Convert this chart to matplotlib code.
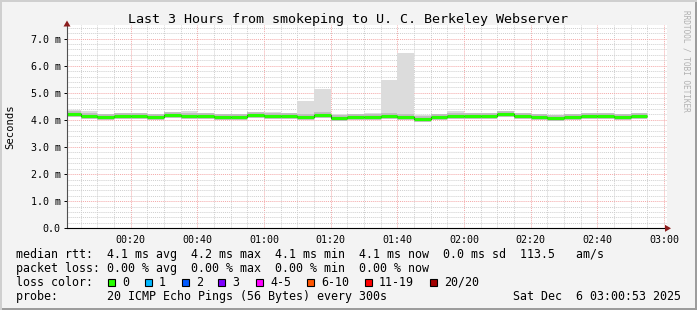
import matplotlib.pyplot as plt
from matplotlib.patches import Rectangle, Polygon
import numpy as np

W, H = 697, 310

# clock minutes since 00:00, graph runs 00:00:53 -> 03:00:53
t_start = 53 / 60.0
t_end = 180 + 53 / 60.0
bar_edges = list(range(0, 175, 5))  # 5-minute steps, 00:00 .. 02:50

# median rtt (ms) per 5 min step
median = [4.21, 4.16, 4.09, 4.15, 4.16, 4.10, 4.17, 4.16, 4.16, 4.12, 4.09, 4.18,
          4.16, 4.13, 4.10, 4.17, 4.06, 4.09, 4.12, 4.14, 4.10, 4.04, 4.09, 4.16,
          4.16, 4.16, 4.21, 4.16, 4.12, 4.06, 4.12, 4.16, 4.16, 4.10, 4.15]
# smoke range (ms)
smoke_hi = [4.37, 4.31, 4.20, 4.25, 4.25, 4.17, 4.25, 4.33, 4.25, 4.22, 4.20, 4.27,
            4.30, 4.25, 4.68, 5.14, 4.22, 4.20, 4.25, 5.48, 6.48, 4.18, 4.22, 4.33,
            4.27, 4.27, 4.30, 4.25, 4.20, 4.15, 4.22, 4.20, 4.18, 4.12, 4.20]
smoke_lo = [4.15, 4.10, 4.04, 4.10, 4.11, 4.06, 4.12, 4.10, 4.11, 4.00, 4.04, 4.13,
            4.11, 4.08, 4.05, 4.12, 4.00, 4.04, 4.07, 4.09, 4.05, 4.00, 4.04, 4.11,
            4.11, 4.11, 4.16, 4.11, 4.07, 4.00, 4.07, 4.11, 4.11, 4.06, 4.10]

y_ticks = [0, 1, 2, 3, 4, 5, 6, 7]
y_labels = ['0.0', '1.0 m', '2.0 m', '3.0 m', '4.0 m', '5.0 m', '6.0 m', '7.0 m']
x_ticks = [20, 40, 60, 80, 100, 120, 140, 160, 180]
x_labels = ['00:20', '00:40', '01:00', '01:20', '01:40', '02:00', '02:20', '02:40', '03:00']

loss_labels = ['0', '1', '2', '3', '4-5', '6-10', '11-19', '20/20']
loss_colors = ['#26ff00', '#00b8ff', '#0059ff', '#7e00ff', '#ff00ff', '#ff5500', '#ff0000', '#a10000']

legend_rtt = 'median rtt:  4.1 ms avg  4.2 ms max  4.1 ms min  4.1 ms now  0.0 ms sd  113.5   am/s'
legend_loss = 'packet loss: 0.00 % avg  0.00 % max  0.00 % min  0.00 % now'
legend_probe = 'probe:       20 ICMP Echo Pings (56 Bytes) every 300s'
date_str = 'Sat Dec  6 03:00:53 2025'

MONO = 'DejaVu Sans Mono'


def fx(x):
    return x / W


def fy(y):
    return 1 - y / H


fig = plt.figure(figsize=(W / 100, H / 100), dpi=100)
fig.patch.set_facecolor('#f3f3f3')

# 3d frame around the image
fig.patches.append(Rectangle((0, 0), 1, 2 / H, transform=fig.transFigure,
                             facecolor='#9c9c9c', edgecolor='none'))
fig.patches.append(Rectangle((fx(W - 2), 0), fx(2), 1, transform=fig.transFigure,
                             facecolor='#9c9c9c', edgecolor='none'))
fig.patches.append(Rectangle((0, 0), fx(2), 1, transform=fig.transFigure,
                             facecolor='#cfcfcf', edgecolor='none'))
fig.patches.append(Rectangle((0, fy(2)), 1, 2 / H, transform=fig.transFigure,
                             facecolor='#cfcfcf', edgecolor='none'))

ax = fig.add_axes([fx(67), fy(228.3), fx(600), (228.3 - 25) / H])
ax.set_facecolor('white')
ax.set_xlim(t_start, t_end)
ax.set_ylim(0, 7.5)

# grid
for t in range(5, 181, 5):
    major = t % 20 == 0
    ax.axvline(t, color='#f4a8a8' if major else '#cfcfcf', lw=0.7,
               ls=(0, (1, 1)), zorder=1)
for v in np.arange(0.2, 7.5, 0.2):
    major = abs(v - round(v)) < 1e-6
    ax.axhline(v, color='#f4a8a8' if major else '#cfcfcf', lw=0.7,
               ls=(0, (1, 1)), zorder=1)

edges = bar_edges + [bar_edges[-1] + 5]
ax.stairs(smoke_hi, edges, baseline=smoke_lo, fill=True, color='#dcdcdc', zorder=2)
# darker core of the smoke
ax.hlines(median, edges[:-1], edges[1:], color='#bdbdbd', lw=4.2, zorder=3)
ax.stairs(median, edges, baseline=None, color='#202020', lw=0.8, zorder=4)
ax.hlines(median, edges[:-1], edges[1:], color=loss_colors[0], lw=2.2, zorder=5)

for s in ['top', 'right']:
    ax.spines[s].set_visible(False)
ax.spines['left'].set_color('#505050')
ax.spines['bottom'].set_color('black')
ax.spines['left'].set_zorder(6)
ax.spines['bottom'].set_zorder(6)

ax.set_yticks(y_ticks)
ax.set_yticklabels(y_labels, fontfamily=MONO, fontsize=7.2)
ax.set_xticks(x_ticks)
ax.set_xticklabels(x_labels, fontfamily=MONO, fontsize=7.2)
ax.tick_params(axis='y', length=2.5, pad=2, colors='black', width=0.7)
ax.tick_params(axis='x', length=0, pad=5)

# axis arrows
fig.patches.append(Polygon([[fx(63.5), fy(26.5)], [fx(70.5), fy(26.5)], [fx(67), fy(20.5)]],
                           closed=True, transform=fig.transFigure,
                           facecolor='#8b1c1c', edgecolor='none', zorder=10))
fig.patches.append(Polygon([[fx(665), fy(224.8)], [fx(665), fy(231.8)], [fx(671), fy(228.3)]],
                           closed=True, transform=fig.transFigure,
                           facecolor='#8b1c1c', edgecolor='none', zorder=10))

fig.text(fx(348), fy(19), 'Last 3 Hours from smokeping to U. C. Berkeley Webserver',
         ha='center', va='center', fontfamily=MONO, fontsize=9.6)
fig.text(fx(10.5), fy(127), 'Seconds', rotation=90, ha='center', va='center',
         fontfamily=MONO, fontsize=7.6)
fig.text(fx(686), fy(10), 'RRDTOOL / TOBI OETIKER', rotation=-90, ha='center', va='top',
         fontfamily=MONO, fontsize=5.6, color='#b0b0b0')

# legend block
fs = 8.4
fig.text(fx(16), fy(254.3), legend_rtt, ha='left', va='center', fontfamily=MONO, fontsize=fs)
fig.text(fx(16), fy(268.3), legend_loss, ha='left', va='center', fontfamily=MONO, fontsize=fs)
fig.text(fx(16), fy(282.3), 'loss color:', ha='left', va='center', fontfamily=MONO, fontsize=fs)
fig.text(fx(16), fy(296.2), legend_probe, ha='left', va='center', fontfamily=MONO, fontsize=fs)
fig.text(fx(681), fy(296.2), date_str, ha='right', va='center', fontfamily=MONO, fontsize=fs)

box_x = [108, 145, 182, 218, 256, 307, 365, 430]
for bx, lab, col in zip(box_x, loss_labels, loss_colors):
    fig.patches.append(Rectangle((fx(bx), fy(286)), fx(7), 7 / H, transform=fig.transFigure,
                                 facecolor=col, edgecolor='black', lw=0.8))
    fig.text(fx(bx + 14), fy(282.3), lab, ha='left', va='center', fontfamily=MONO, fontsize=fs)

fig.savefig('out.png', dpi=100, facecolor=fig.get_facecolor())
